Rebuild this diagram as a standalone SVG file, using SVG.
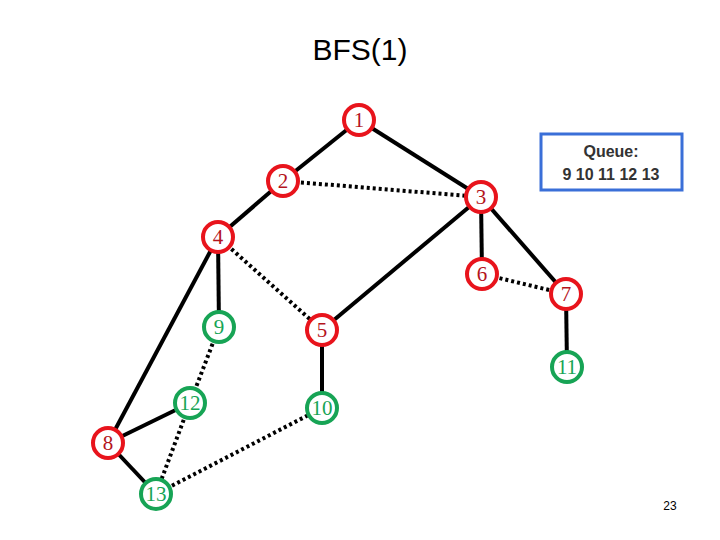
<svg xmlns="http://www.w3.org/2000/svg" width="720" height="540" viewBox="0 0 720 540">
<style>
.s{stroke:#000;stroke-width:4;fill:none}
.d{stroke:#000;stroke-width:4;fill:none;stroke-dasharray:3 3}
.r circle{fill:#fff;stroke:#e8141c;stroke-width:4}
.g circle{fill:#fff;stroke:#17a455;stroke-width:4}
.r text{fill:#b4141c}
.g text{fill:#17a455}
text.n{font-family:"Liberation Serif",serif;font-size:21px;text-anchor:middle}
</style>
<rect width="720" height="540" fill="#fff"/>
<text x="360" y="60" font-family="Liberation Sans,sans-serif" font-size="30" text-anchor="middle">BFS(1)</text>
<g id="connectors">
<line class="s" x1="359" y1="120" x2="283" y2="181"/>
<line class="s" x1="359" y1="120" x2="481" y2="197"/>
<line class="s" x1="283" y1="181" x2="218" y2="237"/>
<line class="s" x1="481" y1="197" x2="322" y2="330"/>
<line class="s" x1="481" y1="197" x2="482" y2="274"/>
<line class="s" x1="481" y1="197" x2="566" y2="294"/>
<line class="s" x1="218" y1="237" x2="108" y2="443"/>
<line class="s" x1="218" y1="237" x2="219" y2="327"/>
<line class="s" x1="322" y1="330" x2="322" y2="408"/>
<line class="s" x1="566" y1="294" x2="567" y2="367"/>
<line class="s" x1="108" y1="443" x2="190" y2="403"/>
<line class="s" x1="108" y1="443" x2="156" y2="494"/>
<line class="d" x1="283" y1="181" x2="481" y2="197"/>
<line class="d" x1="218" y1="237" x2="322" y2="330"/>
<line class="d" x1="482" y1="274" x2="566" y2="294"/>
<line class="d" x1="219" y1="327" x2="190" y2="403"/>
<line class="d" x1="190" y1="403" x2="156" y2="494"/>
<line class="d" x1="156" y1="494" x2="322" y2="408"/>
</g>
<g id="n1" class="r"><circle cx="359" cy="120" r="15"/><text class="n" x="359" y="127">1</text></g>
<g id="n2" class="r"><circle cx="283" cy="181" r="15"/><text class="n" x="283" y="188">2</text></g>
<g id="n3" class="r"><circle cx="481" cy="197" r="15"/><text class="n" x="481" y="204">3</text></g>
<g id="n4" class="r"><circle cx="218" cy="237" r="15"/><text class="n" x="218" y="244">4</text></g>
<g id="n5" class="r"><circle cx="322" cy="330" r="15"/><text class="n" x="322" y="337">5</text></g>
<g id="n6" class="r"><circle cx="482" cy="274" r="15"/><text class="n" x="482" y="281">6</text></g>
<g id="n7" class="r"><circle cx="566" cy="294" r="15"/><text class="n" x="566" y="301">7</text></g>
<g id="n8" class="r"><circle cx="108" cy="443" r="15"/><text class="n" x="108" y="450">8</text></g>
<g id="n9" class="g"><circle cx="219" cy="327" r="15"/><text class="n" x="219" y="334">9</text></g>
<g id="n10" class="g"><circle cx="322" cy="408" r="15"/><text class="n" x="322" y="415">10</text></g>
<g id="n11" class="g"><circle cx="567" cy="367" r="15"/><text class="n" x="567" y="374">11</text></g>
<g id="n12" class="g"><circle cx="190" cy="403" r="15"/><text class="n" x="190" y="410">12</text></g>
<g id="n13" class="g"><circle cx="156" cy="494" r="15"/><text class="n" x="156" y="501">13</text></g>
<g id="queue">
<rect x="541" y="134" width="141" height="56" fill="#fff" stroke="#3a6fd8" stroke-width="3"/>
<text font-family="Liberation Sans,sans-serif" font-size="16" font-weight="bold" fill="#333" text-anchor="middle"><tspan x="611" y="157">Queue:</tspan><tspan x="611" y="180">9 10 11 12 13</tspan></text>
</g>
<text x="670" y="510" font-family="Liberation Sans,sans-serif" font-size="12" text-anchor="middle">23</text>
</svg>
